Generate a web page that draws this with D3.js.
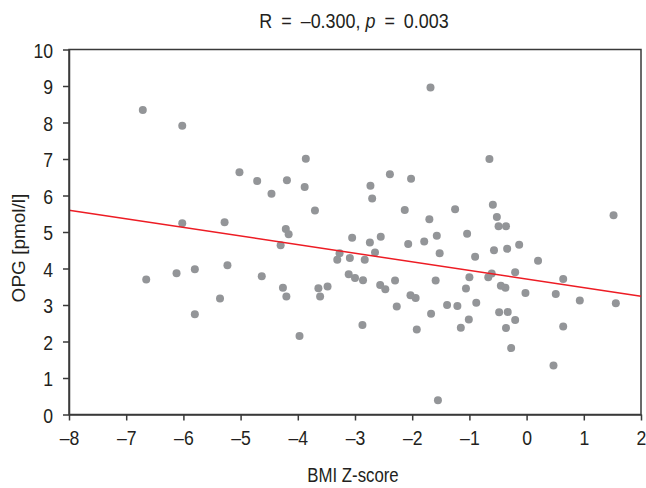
<!doctype html>
<html lang="en">
<head>
<meta charset="utf-8">
<title>OPG vs BMI Z-score</title>
<script src="https://d3js.org/d3.v7.min.js"></script>
<style>
  body { margin: 0; background: #fff; }
  svg text { font-family: "Liberation Sans", Arial, sans-serif; fill: #231f20; }
</style>
</head>
<body>
<div id="chart"></div>
<script>
// BMI Z-score (x) and OPG [pmol/l] (y)
var bmiZ = [-6.71, -6.02, -6.65, -6.12, -5.80, -5.23, -6.02, -5.28, -5.36, -5.80,
            -5.02, -4.71, -4.46, -4.19, -3.88, -3.86, -3.70, -4.21, -4.16, -4.30,
            -4.63, -4.26, -4.20, -3.97, -3.64, -3.61, -3.48, -3.05, -3.27, -3.31,
            -3.09, -3.11, -3.00, -2.86, -2.87, -2.74, -2.65, -2.83, -2.55, -2.56,
            -2.47, -2.30, -2.27, -2.73, -2.39, -2.02, -2.70, -2.13, -2.07, -1.79,
            -1.57, -1.52, -2.03, -1.94, -1.92, -1.59, -1.67, -1.39, -1.55, -1.70,
            -1.68, -1.25, -0.65, -0.59, -0.52, -0.49, -0.36, 1.52, -1.04, -0.90,
            -0.57, -0.34, -0.13, 0.20, -1.00, -1.06, -0.67, -0.61, -0.20, -0.45,
            -0.37, -0.02, 0.64, 0.51, 0.93, 1.56, -1.21, -0.88, -1.01, -1.15,
            -0.48, -0.33, -0.20, -0.36, -0.27, 0.64, 0.47];
var opg  = [8.34, 7.91, 3.70, 3.87, 3.98, 4.09, 5.24, 5.27, 3.18, 2.75,
            6.64, 6.40, 6.05, 6.42, 6.23, 7.01, 5.59, 5.08, 4.94, 4.64,
            3.79, 3.47, 3.23, 2.15, 3.46, 3.23, 3.51, 4.84, 4.42, 4.24,
            4.29, 3.84, 3.74, 3.68, 2.45, 4.71, 4.44, 4.24, 4.87, 3.55,
            3.43, 3.67, 2.96, 6.27, 6.58, 6.46, 5.92, 5.60, 4.67, 4.74,
            4.90, 4.42, 3.27, 3.19, 2.33, 3.67, 2.76, 3.00, 0.39, 5.35,
            8.96, 5.62, 7.00, 5.75, 5.41, 5.16, 5.16, 5.46, 4.95, 4.32,
            4.50, 4.54, 4.65, 4.21, 3.76, 3.45, 3.76, 3.86, 3.90, 3.53,
            3.47, 3.33, 3.71, 3.30, 3.12, 3.05, 2.97, 3.06, 2.60, 2.38,
            2.80, 2.81, 2.59, 2.37, 1.82, 2.41, 1.34];
var xTicks = [-8, -7, -6, -5, -4, -3, -2, -1, 0, 1, 2];
var yTicks = [0, 1, 2, 3, 4, 5, 6, 7, 8, 9, 10];
// regression line y = fitIntercept + fitSlope * x
var fitIntercept = 3.71;
var fitSlope = -0.236;

var width = 646, height = 488;
var margin = { top: 49.5, right: 5, bottom: 73.5, left: 69 };
var narrow = 0.84; // no condensed font installed, squeeze glyphs instead

var svg = d3.select("#chart").append("svg")
  .attr("width", width)
  .attr("height", height);

var x = d3.scaleLinear().domain([-8, 2]).range([margin.left, width - margin.right]);
var y = d3.scaleLinear().domain([0, 10]).range([height - margin.bottom, margin.top]);

var fmt = function(d) { return d < 0 ? "\u2013" + Math.abs(d) : String(d); };

// frame
svg.append("rect")
  .attr("x", x(-8)).attr("y", y(10))
  .attr("width", x(2) - x(-8)).attr("height", y(0) - y(10))
  .attr("fill", "none").attr("stroke", "#3a3a3a").attr("stroke-width", 1.5);

// points
svg.append("g").selectAll("circle")
  .data(d3.zip(bmiZ, opg))
  .join("circle")
  .attr("cx", function(d) { return x(d[0]); })
  .attr("cy", function(d) { return y(d[1]); })
  .attr("r", 4)
  .attr("fill", "#939598");

// regression line
svg.append("line")
  .attr("x1", x(-8)).attr("y1", y(fitIntercept + fitSlope * -8))
  .attr("x2", x(2)).attr("y2", y(fitIntercept + fitSlope * 2))
  .attr("stroke", "#ed1c24").attr("stroke-width", 1.5);

var xAxis = svg.append("g")
  .attr("transform", "translate(0," + y(0) + ")")
  .call(d3.axisBottom(x).tickValues(xTicks).tickFormat(fmt).tickSize(6).tickSizeOuter(0));
var yAxis = svg.append("g")
  .attr("transform", "translate(" + x(-8) + ",0)")
  .call(d3.axisLeft(y).tickValues(yTicks).tickFormat(fmt).tickSize(6).tickSizeOuter(0));

[xAxis, yAxis].forEach(function(a) {
  a.select(".domain").attr("stroke", "#3a3a3a").attr("stroke-width", 1.5);
  a.selectAll(".tick line").attr("stroke", "#3a3a3a").attr("stroke-width", 1.5);
  a.selectAll(".tick text").style("font-size", "21px").attr("fill", "#231f20")
    .attr("transform", "scale(" + narrow + ",1)");
});
xAxis.selectAll(".tick text").attr("y", 16).attr("dy", "0.71em");
yAxis.selectAll(".tick text").attr("x", -16 / narrow).attr("dy", "0.36em");

// titles
var cx = (x(-8) + x(2)) / 2;
svg.append("text")
  .attr("transform", "translate(" + (cx - 1) + ",28) scale(0.92,1)")
  .attr("text-anchor", "middle").style("font-size", "19.5px")
  .html("R\u2002=\u2002\u20130.300, <tspan font-style='italic'>p</tspan>\u2002=\u20020.003");

svg.append("text")
  .attr("transform", "translate(" + (cx - 2) + ",482) scale(0.8,1)")
  .attr("text-anchor", "middle").style("font-size", "21px")
  .text("BMI Z-score");

svg.append("text")
  .attr("transform", "translate(25,248) rotate(-90)")
  .attr("text-anchor", "middle").style("font-size", "19px")
  .text("OPG [pmol/l]");
</script>
</body>
</html>
